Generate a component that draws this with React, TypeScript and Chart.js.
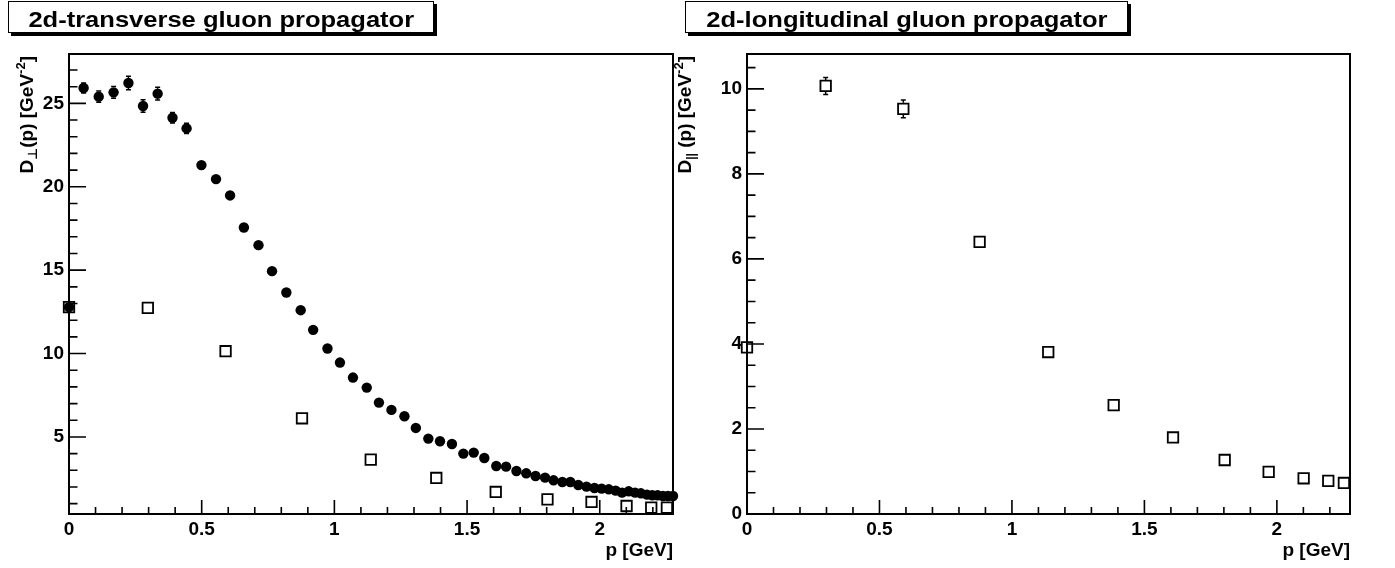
import React, { useEffect, useRef } from "react";
import { Chart, registerables } from "chart.js";

Chart.register(...registerables);

// ---------------- data ----------------
// transverse propagator (filled circles), left panel
const transP = [0, 0.055, 0.112, 0.168, 0.224, 0.279, 0.334, 0.39, 0.443, 0.499, 0.554, 0.607, 0.659, 0.714, 0.765, 0.819, 0.873, 0.92, 0.974, 1.021, 1.07, 1.122, 1.168, 1.215, 1.264, 1.307, 1.354, 1.398, 1.443, 1.486, 1.525, 1.565, 1.61, 1.647, 1.686, 1.723, 1.758, 1.794, 1.826, 1.859, 1.889, 1.919, 1.95, 1.98, 2.007, 2.034, 2.06, 2.084, 2.109, 2.133, 2.155, 2.178, 2.198, 2.218, 2.238, 2.257, 2.276];
const transD = [12.78, 25.92, 25.4, 25.66, 26.22, 24.84, 25.58, 24.14, 23.5, 21.3, 20.46, 19.48, 17.56, 16.5, 14.94, 13.66, 12.6, 11.42, 10.3, 9.46, 8.56, 7.96, 7.06, 6.62, 6.24, 5.54, 4.9, 4.74, 4.58, 4.0, 4.06, 3.74, 3.26, 3.22, 2.96, 2.82, 2.66, 2.56, 2.4, 2.3, 2.3, 2.12, 2.02, 1.94, 1.9, 1.86, 1.78, 1.66, 1.74, 1.66, 1.62, 1.54, 1.5, 1.5, 1.46, 1.46, 1.46];
const transErr = [0.25, 0.3, 0.34, 0.35, 0.4, 0.37, 0.38, 0.32, 0.31, 0.2, 0.2, 0.18, 0.15, 0.12, 0.1, 0.1, 0.08, 0.08, 0.06, 0.06, 0.05, 0.05, 0.05, 0.04, 0.04, 0.04, 0.03, 0.03, 0.03, 0.03, 0.03, 0.03, 0.03, 0.03, 0.02, 0.02, 0.02, 0.02, 0.02, 0.02, 0.02, 0.02, 0.02, 0.02, 0.02, 0.02, 0.02, 0.02, 0.02, 0.02, 0.02, 0.02, 0.02, 0.02, 0.02, 0.02, 0.02];

// open squares: momenta shared by both panels
const sqP = [0, 0.297, 0.59, 0.878, 1.137, 1.384, 1.608, 1.803, 1.969, 2.101, 2.194, 2.253];
const leftSqD = [12.78, 12.74, 10.14, 6.12, 3.64, 2.54, 1.7, 1.26, 1.1, 0.86, 0.76, 0.76];
const leftSqErr = [0.25, 0.22, 0.15, 0.1, 0.06, 0.05, 0.04, 0.03, 0.03, 0.02, 0.02, 0.02];

// longitudinal propagator, right panel
const longD = [3.92, 10.07, 9.53, 6.4, 3.81, 2.56, 1.8, 1.27, 0.99, 0.84, 0.78, 0.73];
const longErr = [0.1, 0.2, 0.21, 0.12, 0.06, 0.05, 0.04, 0.03, 0.02, 0.02, 0.02, 0.02];

// axis ranges and labels
const xRange = [0, 2.276];
const leftYRange = [0.38, 27.96];
const rightYRange = [0, 10.82];
const leftTitle = "2d-transverse gluon propagator";
const rightTitle = "2d-longitudinal gluon propagator";
const xAxisTitle = "p [GeV]";

const FONT = "'Liberation Sans', Arial, Helvetica, 'DejaVu Sans', sans-serif";

type Piece = { text: string; size: number; dy: number };

const leftYTitle: Piece[] = [
  { text: "D", size: 19, dy: 0 },
  { text: "\u22A5", size: 13, dy: 4 },
  { text: "(p) [GeV", size: 19, dy: 0 },
  { text: "-2", size: 13, dy: -8 },
  { text: "]", size: 19, dy: 0 },
];
const rightYTitle: Piece[] = [
  { text: "D", size: 19, dy: 0 },
  { text: "||", size: 12, dy: 4 },
  { text: " (p) [GeV", size: 19, dy: 0 },
  { text: "-2", size: 13, dy: -8 },
  { text: "]", size: 19, dy: 0 },
];

function pts(xs: number[], ys: number[]) {
  return xs.map((x, i) => ({ x, y: ys[i] }));
}

function drawRotatedRich(ctx: CanvasRenderingContext2D, pieces: Piece[], baseX: number, endY: number) {
  ctx.save();
  ctx.translate(baseX, endY);
  ctx.rotate(-Math.PI / 2);
  ctx.fillStyle = "#000";
  ctx.textBaseline = "alphabetic";
  ctx.textAlign = "left";
  const widths = pieces.map((p) => {
    ctx.font = `bold ${p.size}px ${FONT}`;
    return ctx.measureText(p.text).width;
  });
  const total = widths.reduce((a, b) => a + b, 0);
  let x = -total;
  pieces.forEach((p, i) => {
    ctx.font = `bold ${p.size}px ${FONT}`;
    ctx.fillText(p.text, x, p.dy);
    x += widths[i];
  });
  ctx.restore();
}

const rootStylePlugin = {
  id: "rootStyle",
  beforeDatasetsDraw(chart: any, _args: any, o: any) {
    const ctx: CanvasRenderingContext2D = chart.ctx;
    const a = chart.chartArea;
    const xs = chart.scales.x;
    const ys = chart.scales.y;
    ctx.save();
    ctx.strokeStyle = "#000";
    ctx.lineWidth = 1.6;
    ctx.beginPath();
    for (let k = 1; ; k++) {
      const v = k * o.xMinor;
      if (v > xs.max - 1e-9) break;
      const px = xs.getPixelForValue(v);
      const r = v / o.xMajor;
      const major = Math.abs(r - Math.round(r)) < 1e-6;
      const len = major ? o.xMajorLen : o.xMinorLen;
      ctx.moveTo(px, a.bottom);
      ctx.lineTo(px, a.bottom - len);
    }
    for (let k = Math.ceil(ys.min / o.yMinor); ; k++) {
      const v = k * o.yMinor;
      if (v > ys.max - 1e-9) break;
      if (v <= ys.min + 1e-9) continue;
      const py = ys.getPixelForValue(v);
      const r = v / o.yMajor;
      const major = Math.abs(r - Math.round(r)) < 1e-6;
      const len = major ? o.yMajorLen : o.yMinorLen;
      ctx.moveTo(a.left, py);
      ctx.lineTo(a.left + len, py);
    }
    ctx.stroke();
    ctx.lineWidth = 2;
    ctx.strokeRect(a.left, a.top, a.right - a.left, a.bottom - a.top);
    ctx.restore();
  },
  afterDatasetsDraw(chart: any) {
    const ctx: CanvasRenderingContext2D = chart.ctx;
    const ys = chart.scales.y;
    chart.data.datasets.forEach((ds: any, i: number) => {
      const errs: number[] = ds.errors;
      if (!errs) return;
      const half: number = ds.markerHalf;
      const meta = chart.getDatasetMeta(i);
      ctx.save();
      ctx.strokeStyle = "#000";
      ctx.lineWidth = 1.5;
      ctx.beginPath();
      meta.data.forEach((pt: any, j: number) => {
        const v = ds.data[j].y;
        const e = errs[j];
        if (!e) return;
        const yt = ys.getPixelForValue(v + e);
        const yb = ys.getPixelForValue(v - e);
        const x = pt.x;
        const y = pt.y;
        if (y - yt > half) {
          ctx.moveTo(x, y - half);
          ctx.lineTo(x, yt);
          ctx.moveTo(x - 2.5, yt);
          ctx.lineTo(x + 2.5, yt);
        }
        if (yb - y > half) {
          ctx.moveTo(x, y + half);
          ctx.lineTo(x, yb);
          ctx.moveTo(x - 2.5, yb);
          ctx.lineTo(x + 2.5, yb);
        }
      });
      ctx.stroke();
      ctx.restore();
    });
  },
  afterDraw(chart: any, _args: any, o: any) {
    const ctx: CanvasRenderingContext2D = chart.ctx;
    const a = chart.chartArea;
    drawRotatedRich(ctx, o.yTitle, o.yTitleX, a.top + 2);
    ctx.save();
    ctx.fillStyle = "#000";
    ctx.font = `bold 19px ${FONT}`;
    ctx.textAlign = "right";
    ctx.textBaseline = "alphabetic";
    ctx.fillText(o.xTitle, a.right, o.xTitleY);
    ctx.restore();
  },
};

const tickFont = { family: FONT, weight: "bold" as const, size: 19 };

function makeConfig(p: {
  datasets: any[];
  yRange: number[];
  yStep: number;
  yMinor: number;
  yWidth: number;
  padRight: number;
  yTitle: Piece[];
  yTitleX: number;
}) {
  return {
    type: "scatter" as const,
    data: { datasets: p.datasets },
    options: {
      animation: false as const,
      responsive: false,
      events: [],
      layout: { padding: { top: 54, right: p.padRight, bottom: 0, left: 0 } },
      plugins: {
        legend: { display: false },
        tooltip: { enabled: false },
        title: { display: false },
        rootStyle: {
          xMajor: 0.5,
          xMinor: 0.1,
          xMajorLen: 14,
          xMinorLen: 7,
          yMajor: p.yStep,
          yMinor: p.yMinor,
          yMajorLen: 17,
          yMinorLen: 8.5,
          yTitle: p.yTitle,
          yTitleX: p.yTitleX,
          xTitle: xAxisTitle,
          xTitleY: 556,
        },
      },
      scales: {
        x: {
          type: "linear" as const,
          min: xRange[0],
          max: xRange[1],
          afterFit: (s: any) => {
            s.height = 54;
          },
          grid: { display: false, drawTicks: false },
          border: { display: false },
          ticks: {
            stepSize: 0.5,
            includeBounds: false,
            autoSkip: false,
            maxRotation: 0,
            padding: 4,
            color: "#000",
            font: tickFont,
            callback: (v: any) => String(Math.round(Number(v) * 10) / 10),
          },
        },
        y: {
          type: "linear" as const,
          min: p.yRange[0],
          max: p.yRange[1],
          afterFit: (s: any) => {
            s.width = p.yWidth;
          },
          grid: { display: false, drawTicks: false },
          border: { display: false },
          ticks: {
            stepSize: p.yStep,
            includeBounds: false,
            autoSkip: false,
            padding: 5,
            color: "#000",
            font: tickFont,
            callback: (v: any) => String(Math.round(Number(v))),
          },
        },
      },
    },
    plugins: [rootStylePlugin],
  };
}

const circleStyle = {
  pointStyle: "circle",
  pointRadius: 5.2,
  pointBackgroundColor: "#000",
  pointBorderColor: "#000",
  pointBorderWidth: 0,
  showLine: false,
  clip: false,
  markerHalf: 5,
};
const squareStyle = {
  pointStyle: "rect",
  pointRadius: 7.4,
  pointBackgroundColor: "rgba(0,0,0,0)",
  pointBorderColor: "#000",
  pointBorderWidth: 1.8,
  showLine: false,
  clip: false,
  markerHalf: 6,
};

function TitleBox({ left, width, text }: { left: number; width: number; text: string }) {
  return (
    <div
      style={{
        position: "absolute",
        left,
        top: 1,
        width,
        height: 32,
        boxSizing: "border-box",
        border: "1px solid #000",
        boxShadow: "3px 3px 0 #000",
        background: "#fff",
        display: "flex",
        alignItems: "center",
        justifyContent: "center",
        paddingTop: 5,
        zIndex: 2,
      }}
    >
      <span
        style={{
          display: "inline-block",
          font: `bold 22px ${FONT}`,
          lineHeight: "22px",
          whiteSpace: "nowrap",
          transform: "scaleX(1.16)",
          color: "#000",
        }}
      >
        {text}
      </span>
    </div>
  );
}

export default function App() {
  const leftRef = useRef<HTMLCanvasElement>(null);
  const rightRef = useRef<HTMLCanvasElement>(null);

  useEffect(() => {
    document.body.style.margin = "0";
    const leftCfg: any = makeConfig({
      datasets: [
        { ...circleStyle, label: "transverse", data: pts(transP, transD), errors: transErr },
        { ...squareStyle, label: "squares", data: pts(sqP, leftSqD), errors: leftSqErr },
      ],
      yRange: leftYRange,
      yStep: 5,
      yMinor: 1,
      yWidth: 69,
      padRight: 17,
      yTitle: leftYTitle,
      yTitleX: 33,
    });
    const rightCfg: any = makeConfig({
      datasets: [{ ...squareStyle, label: "longitudinal", data: pts(sqP, longD), errors: longErr }],
      yRange: rightYRange,
      yStep: 2,
      yMinor: 0.5,
      yWidth: 87,
      padRight: 45,
      yTitle: rightYTitle,
      yTitleX: 31,
    });
    const c1 = new Chart(leftRef.current as HTMLCanvasElement, leftCfg);
    const c2 = new Chart(rightRef.current as HTMLCanvasElement, rightCfg);
    return () => {
      c1.destroy();
      c2.destroy();
    };
  }, []);

  return (
    <div style={{ position: "absolute", left: 0, top: 0, width: 1395, height: 568, background: "#fff", overflow: "hidden" }}>
      <canvas ref={leftRef} width={690} height={568} style={{ position: "absolute", left: 0, top: 0, width: 690, height: 568 }} />
      <canvas ref={rightRef} width={735} height={568} style={{ position: "absolute", left: 660, top: 0, width: 735, height: 568 }} />
      <TitleBox left={8} width={426} text={leftTitle} />
      <TitleBox left={685} width={443} text={rightTitle} />
    </div>
  );
}
